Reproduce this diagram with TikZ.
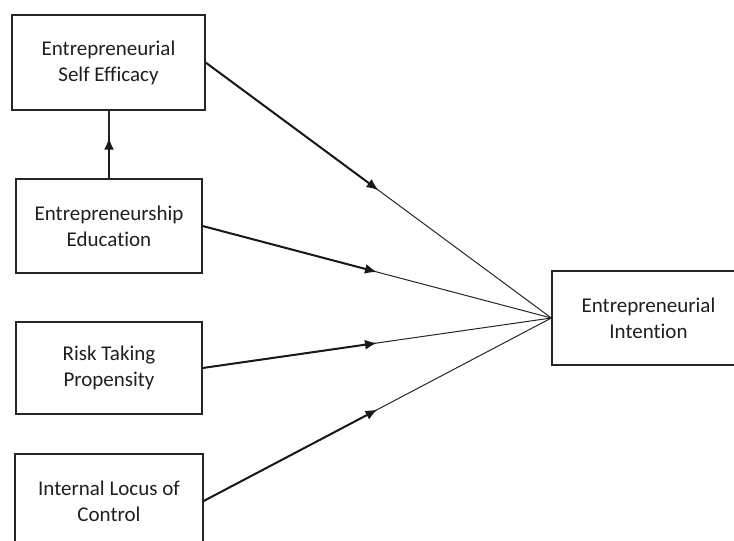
\documentclass[tikz,border=0pt]{standalone}
\usepackage{fontspec}
\setmainfont{Carlito}[Ligatures=NoCommon]
\usetikzlibrary{arrows.meta,calc}
\begin{document}
\begin{tikzpicture}[
    x=1pt, y=-1pt,
    every node/.style={align=center, font=\fontsize{21}{26}\selectfont, text=black!88},
    factor/.style={draw=black!85, line width=1.3pt, inner sep=0pt, minimum width=186pt, minimum height=94pt},
    thin line/.style={draw=black!85, line width=1pt},
    thick arrow/.style={draw=black!90, line width=2pt, -{Latex[length=12pt,width=10pt]}},
    ]
\useasboundingbox (0,0) rectangle (734,541);
\clip (0,0) rectangle (734,541);
\node[factor, minimum width=193pt, minimum height=95pt] (efficacy) at (108.5,62.5) {Entrepreneurial\\Self Efficacy};
\node[factor] (education) at (109,226) {Entrepreneurship\\Education};
\node[factor, minimum height=92pt] (risk) at (109,368) {Risk Taking\\Propensity};
\node[factor, minimum width=188pt] (locus) at (109,501) {Internal Locus of\\Control};
\node[factor, minimum width=193pt] (intention) at (648.5,318) {Entrepreneurial\\Intention};
\draw[thin line, line width=1.6pt] (education.north) -- (education.north |- efficacy.south);
\draw[thick arrow, line width=1.6pt] (education.north) -- ($(education.north)!0.6!(education.north |- efficacy.south)$);
\draw[thin line] (efficacy.east) -- (intention.west);
\draw[thick arrow] (efficacy.east) -- ($(efficacy.east)!0.5!(intention.west)$);
\draw[thin line] (education.east) -- (intention.west);
\draw[thick arrow] (education.east) -- ($(education.east)!0.5!(intention.west)$);
\draw[thin line] (risk.east) -- (intention.west);
\draw[thick arrow] (risk.east) -- ($(risk.east)!0.5!(intention.west)$);
\draw[thin line] (locus.east) -- (intention.west);
\draw[thick arrow] (locus.east) -- ($(locus.east)!0.5!(intention.west)$);
\end{tikzpicture}
\end{document}
